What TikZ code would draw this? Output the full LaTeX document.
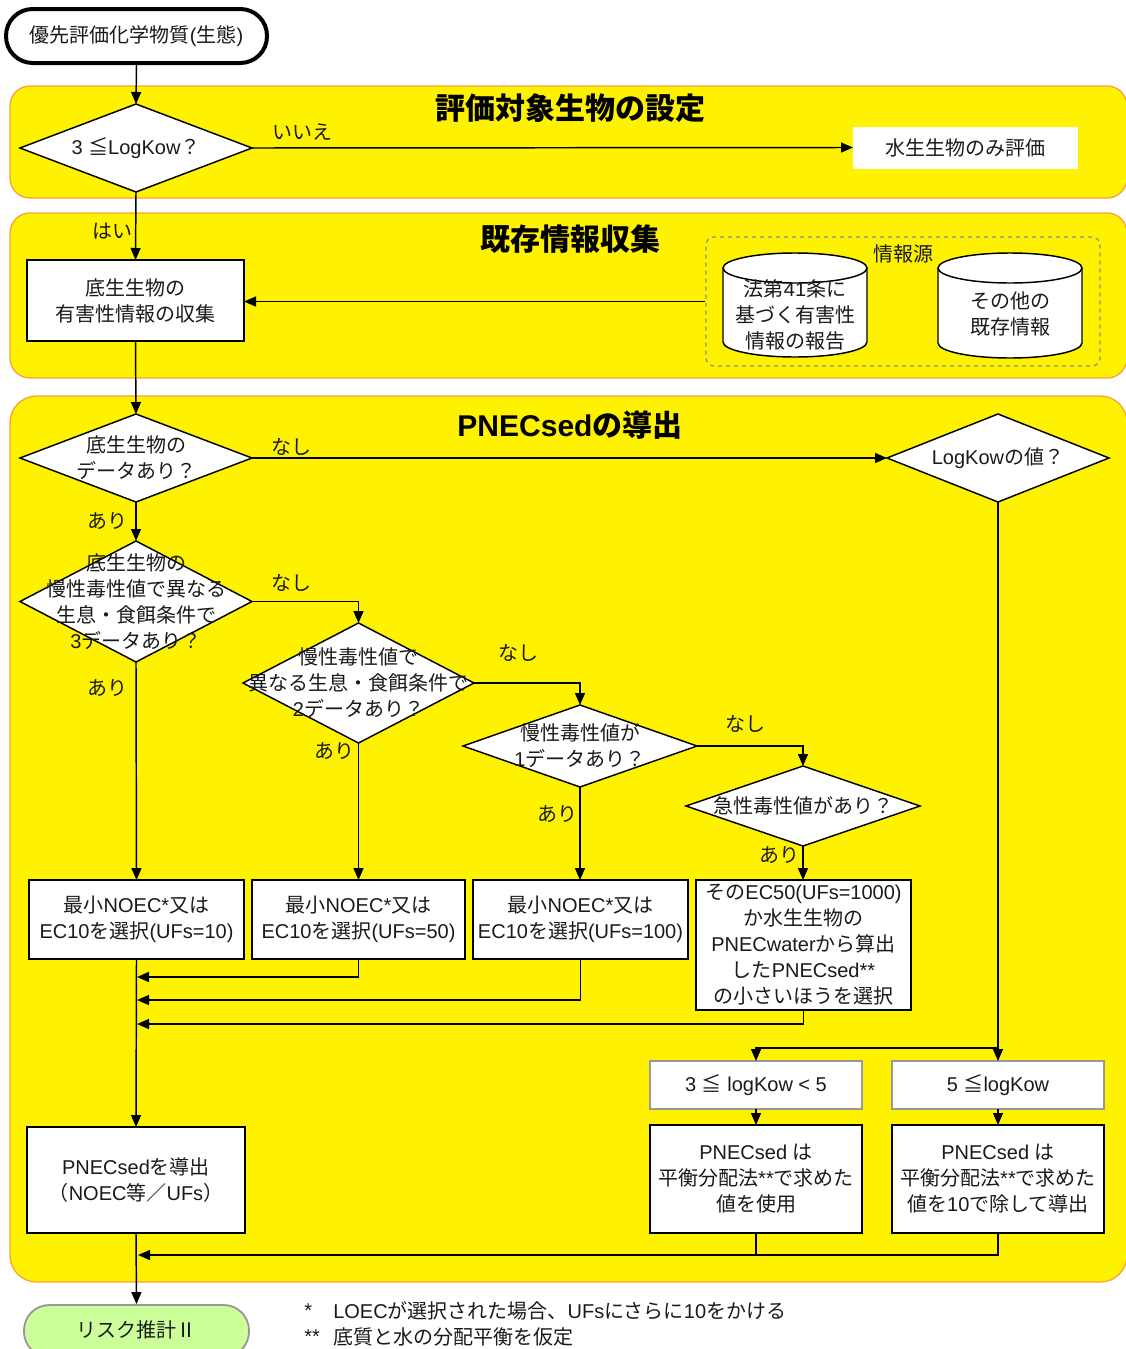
\documentclass[tikz,border=0pt]{standalone}
\usepackage{fontspec}
\setmainfont{Liberation Sans}
\newfontfamily\cjkfont{Noto Sans CJK JP}
\XeTeXinterchartokenstate=1
\newXeTeXintercharclass\cjkcls
\newcount\cjkc
\def\setcjkrange#1#2{\cjkc=#1\relax\loop\XeTeXcharclass\cjkc=\cjkcls\relax\advance\cjkc by 1\relax\ifnum\cjkc<#2\relax\repeat}
\setcjkrange{"3000}{"A000}
\setcjkrange{"FF00}{"FFF0}
\setcjkrange{"2160}{"2190}
\XeTeXcharclass"2266=\cjkcls
\XeTeXinterchartoks 0 \cjkcls = {\begingroup\cjkfont}
\XeTeXinterchartoks 4095 \cjkcls = {\begingroup\cjkfont}
\XeTeXinterchartoks \cjkcls 0 = {\endgroup}
\XeTeXinterchartoks \cjkcls 4095 = {\endgroup}
\usetikzlibrary{shapes.geometric,arrows.meta,calc}
\newlength{\pu}\setlength{\pu}{0.75pt}
\definecolor{panelborder}{HTML}{F8A33A}
\definecolor{riskgreen}{HTML}{CCFF99}
\definecolor{txtc}{HTML}{1A1A1A}
\tikzset{
  lw/.style={line width=1.1pt},
  arr/.style={lw, -{Triangle[length=9pt,width=7.5pt]}},
  ln/.style={lw},
  txt/.style={font=\fontsize{15pt}{19.5pt}\selectfont, align=center, inner sep=0pt, text=txtc},
  dia/.style={diamond, draw, fill=white, lw, inner sep=0pt, outer sep=0pt},
  box/.style={rectangle, draw, fill=white, lw, inner sep=0pt, outer sep=0pt, txt},
  graybox/.style={box, draw=black!40, line width=1.4pt},
  panel/.style={draw=panelborder, fill=yellow, line width=1pt, rounded corners=15pt},
  ttl/.style={font=\fontsize{22.5pt}{27pt}\selectfont\bfseries, inner sep=0pt},
  lab/.style={txt},
}
\begin{document}
\begin{tikzpicture}[x=0.75pt,y=-0.75pt]
\useasboundingbox (0,0) rectangle (1126,1349);
\fill[white] (0,0) rectangle (1126,1349);

% panels
\draw[panel] (10,86) rectangle (1127,198);
\draw[panel] (10,213) rectangle (1127,378);
\draw[panel, rounded corners=20pt] (10,396) rectangle (1127,1282);

% titles
\node[ttl] (t1) at (570,108) {評価対象生物の設定};
\node[ttl] (t2) at (570,239) {既存情報収集};
\node[ttl] (t3) at (570,425) {PNECsedの導出};

% start
\node[txt, draw, fill=white, line width=3pt, rounded corners=20pt, minimum width=261\pu, minimum height=54\pu] (start) at (136.5,36) {優先評価化学物質(生態)};

% panel 1
\node[dia, minimum width=232\pu, minimum height=88\pu, label={[txt]center:{3 ≦LogKow？}}] (d1) at (136,148) {};
\node[box, draw=none, minimum width=225\pu, minimum height=42\pu] (aq) at (965.5,147.5) {水生生物のみ評価};
\node[lab] (no1) at (302,132) {いいえ};

% panel 2
\node[lab] (yes1) at (112,231) {はい};
\node[box, minimum width=217\pu, minimum height=81\pu] (b2) at (135.5,300.5) {底生生物の\\有害性情報の収集};
\node[draw=black!45, dashed, line width=1pt, rounded corners=6pt, minimum width=394\pu, minimum height=129\pu, inner sep=0pt] (src) at (903,301.5) {};
\node[lab] (srcl) at (903,254) {情報源};

% cylinders
\path[fill=white] (723,268) -- (723,342) arc[start angle=180,end angle=360,x radius=54pt,y radius=11.25pt] -- (867,268) -- cycle;
\draw[lw] (723,268) -- (723,342) arc[start angle=180,end angle=360,x radius=54pt,y radius=11.25pt] -- (867,268);
\draw[lw, fill=white] (795,268) ellipse [x radius=54pt, y radius=11.25pt];
\node[txt] (cyl1) at (795,315) {法第41条に\\基づく有害性\\情報の報告};

\path[fill=white] (938,268) -- (938,343) arc[start angle=180,end angle=360,x radius=54pt,y radius=11.25pt] -- (1082,268) -- cycle;
\draw[lw] (938,268) -- (938,343) arc[start angle=180,end angle=360,x radius=54pt,y radius=11.25pt] -- (1082,268);
\draw[lw, fill=white] (1010,268) ellipse [x radius=54pt, y radius=11.25pt];
\node[txt] (cyl2) at (1010,314) {その他の\\既存情報};

% panel 3
\node[dia, minimum width=232\pu, minimum height=88\pu, label={[txt]center:{底生生物の\\データあり？}}] (d3) at (136,458) {};
\node[dia, minimum width=222\pu, minimum height=88\pu, label={[txt]center:{LogKowの値？}}] (dK) at (998,458) {};
\node[dia, minimum width=232\pu, minimum height=121\pu, label={[txt]center:{底生生物の\\慢性毒性値で異なる\\生息・食餌条件で\\3データあり？}}] (d4) at (136,601.5) {};
\node[dia, minimum width=231\pu, minimum height=120\pu, label={[txt]center:{慢性毒性値で\\異なる生息・食餌条件で\\2データあり？}}] (d5) at (358.5,683) {};
\node[dia, minimum width=234\pu, minimum height=82\pu, label={[txt]center:{慢性毒性値が\\1データあり？}}] (d6) at (580,746) {};
\node[dia, minimum width=234\pu, minimum height=80\pu, label={[txt]center:{急性毒性値があり？}}] (d7) at (803,806) {};

\node[lab] (n1) at (291,447) {なし};
\node[lab] (a1) at (107,521) {あり};
\node[lab] (n2) at (291,583) {なし};
\node[lab] (a2) at (107,688) {あり};
\node[lab] (n3) at (518,653) {なし};
\node[lab] (a3) at (334,751) {あり};
\node[lab] (n4) at (745,724) {なし};
\node[lab] (a4) at (557,814) {あり};
\node[lab] (a5) at (779,855) {あり};

\node[box, minimum width=215\pu, minimum height=79\pu] (bA) at (136.5,919.5) {最小NOEC*又は\\EC10を選択(UFs=10)};
\node[box, minimum width=213\pu, minimum height=79\pu] (bB) at (358.5,919.5) {最小NOEC*又は\\EC10を選択(UFs=50)};
\node[box, minimum width=215\pu, minimum height=79\pu] (bC) at (580.5,919.5) {最小NOEC*又は\\EC10を選択(UFs=100)};
\node[box, minimum width=215\pu, minimum height=130\pu] (bD) at (803.5,945) {そのEC50(UFs=1000)\\か水生生物の\\PNECwaterから算出\\したPNECsed**\\の小さいほうを選択};

\node[graybox, minimum width=212\pu, minimum height=48\pu] (bE) at (756,1085) {3 ≦ logKow < 5};
\node[graybox, minimum width=212\pu, minimum height=48\pu] (bF) at (998,1085) {5 ≦logKow};
\node[box, minimum width=212\pu, minimum height=108\pu] (bG) at (756,1179) {PNECsed は\\平衡分配法**で求めた\\値を使用};
\node[box, minimum width=212\pu, minimum height=108\pu] (bH) at (998,1179) {PNECsed は\\平衡分配法**で求めた\\値を10で除して導出};
\node[box, minimum width=218\pu, minimum height=106\pu] (bP) at (136,1180) {PNECsedを導出\\（NOEC等／UFs）};

\node[txt, draw=black!40, line width=1.4pt, fill=riskgreen, rounded corners=19pt, minimum width=225\pu, minimum height=52\pu] (risk) at (136.5,1331) {\raisebox{0.4ex}{リスク推計Ⅱ}};

% footnotes
\node[txt, anchor=west] (f1s) at (304,1311) {*};
\node[txt, anchor=west] (f1) at (333,1311) {LOECが選択された場合、UFsにさらに10をかける};
\node[txt, anchor=west] (f2s) at (304,1337) {**};
\node[txt, anchor=west] (f2) at (333,1337) {底質と水の分配平衡を仮定};

% coordinates
\coordinate (jB) at (137,977);
\coordinate (jC) at (137,1000);
\coordinate (jD) at (137,1024);
\coordinate (kj) at (998,1048);
\coordinate (jP) at (138,1255);

% connectors
\draw[arr] (start.south) -- (d1.north);
\draw[arr] (d1.east) -- (aq.west);
\draw[arr] (d1.south) -- (b2.north);
\draw[arr] (src.west) -- (b2.east |- src.west);
\draw[arr] (b2.south) -- (d3.north);
\draw[arr] (d3.east) -- (dK.west);
\draw[arr] (d3.south) -- (d4.north);
\draw[arr] (d4.east) -| (d5.north);
\draw[arr] (d5.east) -| (d6.north);
\draw[arr] (d6.east) -| (d7.north);
\draw[arr] (d4.south) -- (bA.north);
\draw[arr] (d5.south) -- (d5.south |- bB.north);
\draw[arr] (d6.south) -- (d6.south |- bC.north);
\draw[arr] (d7.south) -- (d7.south |- bD.north);
\draw[arr] (bA.south) -- (bP.north);
\draw[arr] (bB.south) |- (jB);
\draw[arr] (bC.south) |- (jC);
\draw[arr] (bD.south) |- (jD);
\draw[ln] (dK.south) -- (kj);
\draw[arr] (kj) -| (bE.north);
\draw[arr] (kj) -- (bF.north);
\draw[arr] (bE.south) -- (bG.north);
\draw[arr] (bF.south) -- (bH.north);
\draw[ln] (bG.south) -- (bG.south |- jP);
\draw[arr] (bH.south) |- (jP);
\draw[arr] (bP.south) -- (risk.north);
\end{tikzpicture}
\end{document}
